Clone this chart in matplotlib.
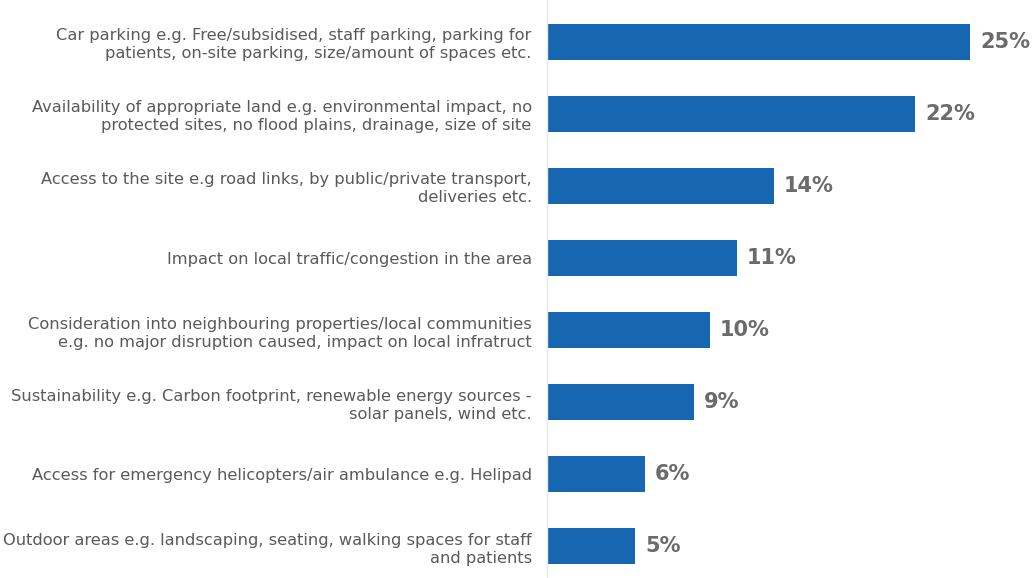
import matplotlib
matplotlib.use("Agg")
import matplotlib.pyplot as plt

plt.rcParams["font.family"] = ["DejaVu Sans"]

# categories and values (share of responses, %)
categories = [
    "Car parking e.g. Free/subsidised, staff parking, parking for\npatients, on-site parking, size/amount of spaces etc.",
    "Availability of appropriate land e.g. environmental impact, no\nprotected sites, no flood plains, drainage, size of site",
    "Access to the site e.g road links, by public/private transport,\ndeliveries etc.",
    "Impact on local traffic/congestion in the area",
    "Consideration into neighbouring properties/local communities\ne.g. no major disruption caused, impact on local infratruct",
    "Sustainability e.g. Carbon footprint, renewable energy sources -\nsolar panels, wind etc.",
    "Access for emergency helicopters/air ambulance e.g. Helipad",
    "Outdoor areas e.g. landscaping, seating, walking spaces for staff\nand patients",
]
values = [25.4, 22.1, 13.6, 11.4, 9.8, 8.8, 5.9, 5.3]

bar_color = "#1666b2"
label_color = "#5a5a5a"
value_color = "#6b6b6b"

fig = plt.figure(figsize=(10.33, 5.78), dpi=100)
ax = fig.add_axes([547 / 1033, 0, 486 / 1033, 1])

ypos = list(range(len(categories)))
ax.barh(ypos, values, height=0.5, color=bar_color)

for y, v in zip(ypos, values):
    ax.annotate(f"{v:.0f}%", xy=(v, y), xytext=(7, 0), textcoords="offset points",
                ha="left", va="center", fontsize=15, fontweight="bold", color=value_color)

ax.set_xlim(0, 486 / 16.67)
ax.set_ylim(7.444, -0.583)

ax.set_yticks(ypos)
ax.set_yticklabels(categories, fontsize=11.7, color=label_color, ha="right",
                   linespacing=1.25)
ax.tick_params(axis="y", length=0, pad=11)
ax.set_xticks([])

for side in ["top", "right", "bottom"]:
    ax.spines[side].set_visible(False)
ax.spines["left"].set_color("#e6e6e6")
ax.spines["left"].set_linewidth(1)

fig.savefig("out.png", dpi=100)
